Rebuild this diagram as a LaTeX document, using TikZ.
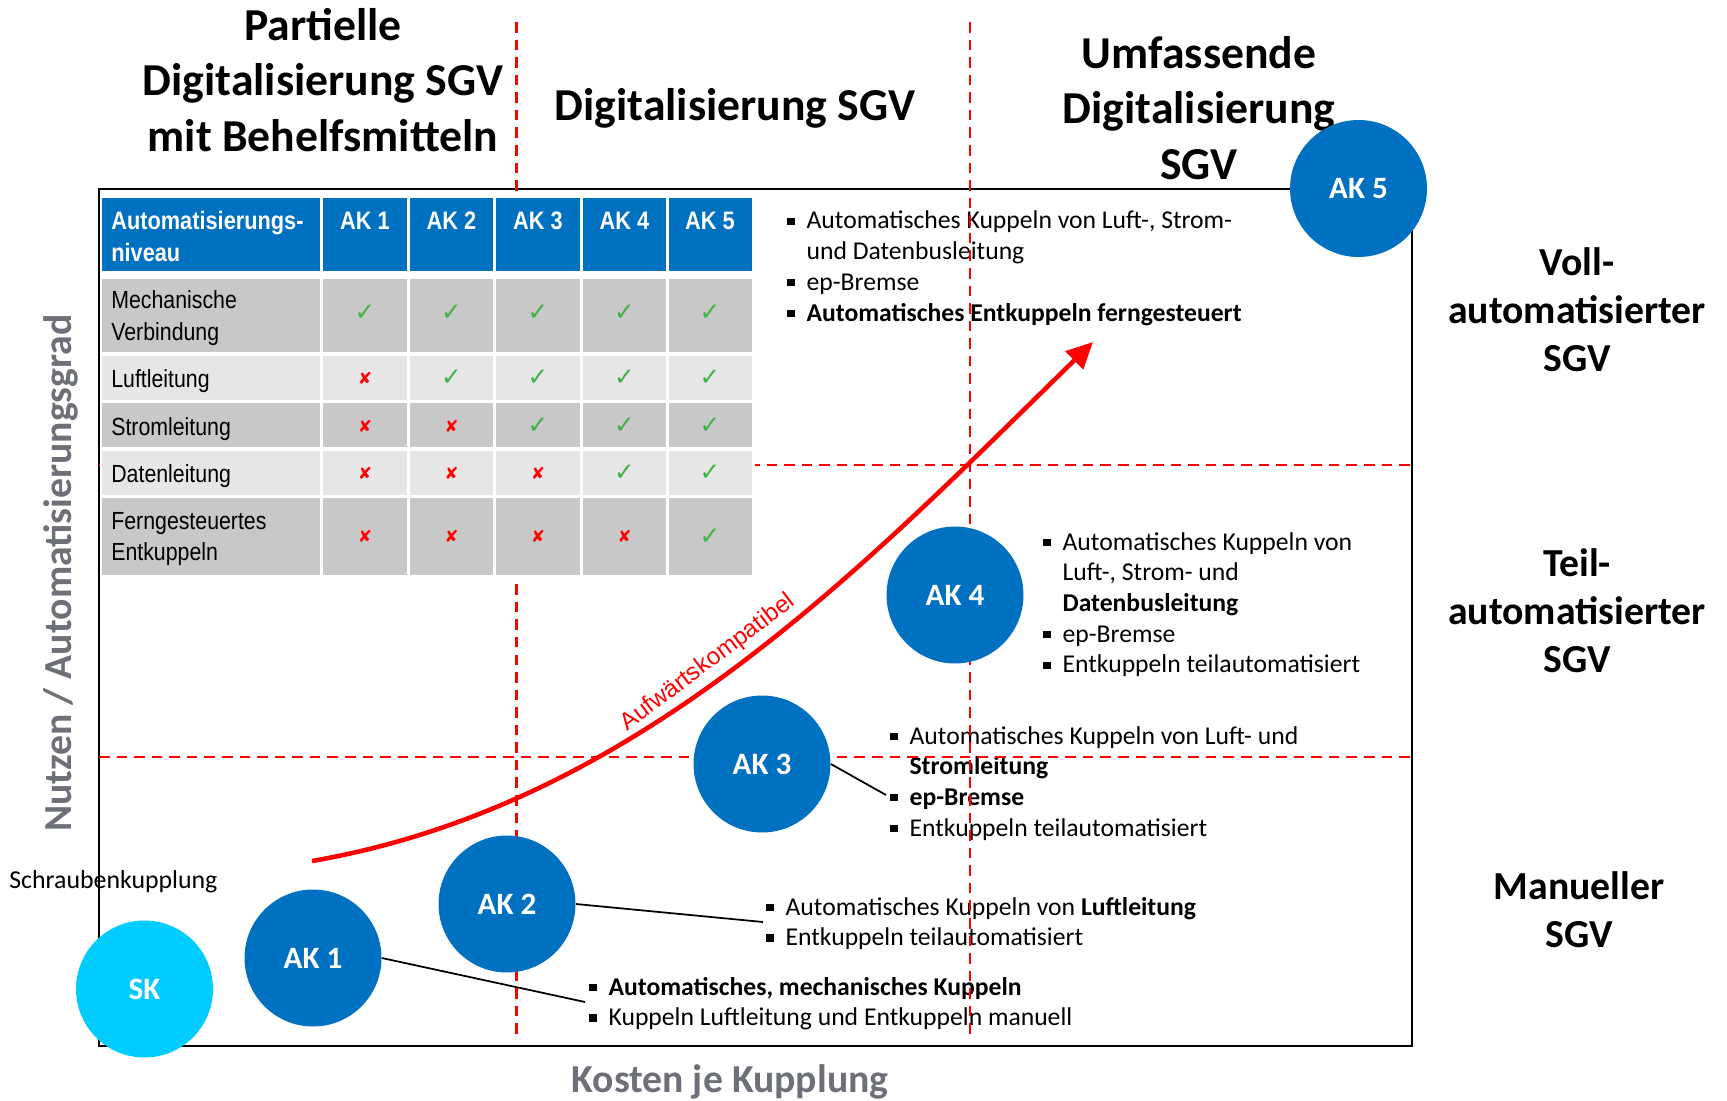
\documentclass[tikz,border=0pt]{standalone}
\usepackage{fontspec}
\setmainfont{Carlito}
\newfontfamily\arialfont{Liberation Sans}
\newfontfamily\narrowfont[FakeStretch=0.86]{Liberation Sans}
\newfontfamily\symbfont{DejaVu Sans}
\usetikzlibrary{arrows.meta}

\definecolor{akblue}{HTML}{0070C0}
\definecolor{skcyan}{HTML}{00CCFF}
\definecolor{celldark}{HTML}{C8C8C8}
\definecolor{celllight}{HTML}{E6E6E6}
\definecolor{okgreen}{HTML}{3DB43D}
\definecolor{axisgrey}{HTML}{6D7078}

\newcommand{\sqbullet}{\rule[0.16em]{0.28em}{0.28em}}
\newcommand{\ckyes}{{\symbfont\fontsize{14}{14}\selectfont\color{okgreen}✓}}
\newcommand{\ckno}{{\symbfont\fontsize{9.5}{9.5}\selectfont\color{red}✘}}

\begin{document}
\begin{tikzpicture}[x=0.02cm, y=-0.02cm, every node/.style={inner sep=0pt},
    akcircle/.style={circle, fill=akblue, minimum size=2.74cm, text=white, font=\bfseries\fontsize{17.7}{20}\selectfont},
    notes/.style={anchor=base west, font=\fontsize{14.6}{17.5}\selectfont},
    heading/.style={align=center, font=\bfseries\fontsize{26}{31.6}\selectfont},
    level/.style={align=center, font=\bfseries\fontsize{22.6}{27.3}\selectfont},
    axislabel/.style={text=axisgrey, font=\bfseries\fontsize{22.6}{27}\selectfont},
    rowlabel/.style={anchor=base west, font=\narrowfont\fontsize{14.1}{18}\selectfont},
    headcell/.style={anchor=base, text=white, font=\narrowfont\bfseries\fontsize{14.4}{18}\selectfont},
    border/.style={red, line width=1.4pt, dash pattern=on 6pt off 4pt},
    link/.style={line width=1pt}]

\useasboundingbox (0,0) rectangle (1727,1101);

% headings above the frame
\node[heading] (hPart) at (323,80) {Partielle\\Digitalisierung SGV\\mit Behelfsmitteln};
\node[heading] (hDig) at (735,108) {Digitalisierung SGV};
\node[heading] (hUmf) at (1199,108) {Umfassende\\Digitalisierung\\SGV};

% levels on the right
\node[level] (lVoll) at (1577,310) {Voll-\\automatisierter\\SGV};
\node[level] (lTeil) at (1577,611) {Teil-\\automatisierter\\SGV};
\node[level] (lMan) at (1579,910) {Manueller\\SGV};

% axes
\node[axislabel, rotate=90] (yAx) at (61,573) {Nutzen / Automatisierungsgrad};
\node[axislabel] (xAx) at (730,1082) {Kosten je Kupplung};
\node[anchor=west, font=\fontsize{14.7}{17}\selectfont] (skLbl) at (9,882) {Schraubenkupplung};

\draw[line width=1.6pt] (99,189) rectangle (1412,1046);

% notes per AK
\node[notes] (n5) at (787,229) {\begin{tabular}[t]{@{}l@{\hspace{0.47em}}l@{}}
  \sqbullet & Automatisches Kuppeln von Luft-, Strom-\\
            & und Datenbusleitung\\
  \sqbullet & ep-Bremse\\
  \sqbullet & \textbf{Automatisches Entkuppeln ferngesteuert}
\end{tabular}};
\node[notes] (n4) at (1043,550) {\begin{tabular}[t]{@{}l@{\hspace{0.47em}}l@{}}
  \sqbullet & Automatisches Kuppeln von\\
            & Luft-, Strom- und\\
            & \textbf{Datenbusleitung}\\
  \sqbullet & ep-Bremse\\
  \sqbullet & Entkuppeln teilautomatisiert
\end{tabular}};
\node[notes] (n3) at (890,744) {\begin{tabular}[t]{@{}l@{\hspace{0.47em}}l@{}}
  \sqbullet & Automatisches Kuppeln von Luft- und\\
            & \textbf{Stromleitung}\\
  \sqbullet & \textbf{ep-Bremse}\\
  \sqbullet & Entkuppeln teilautomatisiert
\end{tabular}};
\node[notes] (n2) at (766,915) {\begin{tabular}[t]{@{}l@{\hspace{0.47em}}l@{}}
  \sqbullet & Automatisches Kuppeln von \textbf{Luftleitung}\\
  \sqbullet & Entkuppeln teilautomatisiert
\end{tabular}};
\node[notes] (n1) at (589,995) {\begin{tabular}[t]{@{}l@{\hspace{0.47em}}l@{}}
  \sqbullet & \textbf{Automatisches, mechanisches Kuppeln}\\
  \sqbullet & Kuppeln Luftleitung und Entkuppeln manuell
\end{tabular}};

% quadrant borders
\draw[border] (516.5,22) -- (516.5,1035);
\draw[border] (970,22) -- (970,1035);
\draw[border] (99,465) -- (1412,465);
\draw[border] (99,757) -- (1412,757);

% table
\fill[white] (100,195) rectangle (755,578);
\foreach \xa/\xb in {102/320,323/407,410/493,496/580,583/666,669/752}{
  \fill[akblue] (\xa,198) rectangle (\xb,271);
  \foreach \ya/\yb/\tone in {279/352/celldark,356/400/celllight,403/447/celldark,451/495/celllight,498/575/celldark}
    \fill[\tone] (\xa,\ya) rectangle (\xb,\yb);
}
\node[headcell, anchor=base west] (hLevel) at (111,230) {\begin{tabular}[t]{@{}l@{}}Automatisierungs-\\niveau\end{tabular}};
\foreach \i/\x in {1/365,2/451.5,3/538,4/624.5,5/710}
  \node[headcell] (hd\i) at (\x,230) {AK \i};

\node[rowlabel] (rMech) at (111,309) {\begin{tabular}[t]{@{}l@{}}Mechanische\\Verbindung\end{tabular}};
\node[rowlabel] (rLuft) at (111,387.5) {Luftleitung};
\node[rowlabel] (rStrom) at (111,435.5) {Stromleitung};
\node[rowlabel] (rDaten) at (111,482) {Datenleitung};
\node[rowlabel] (rFern) at (111,529) {\begin{tabular}[t]{@{}l@{}}Ferngesteuertes\\Entkuppeln\end{tabular}};

\foreach \r/\y/\n in {1/313/0,2/378/1,3/426/2,4/473/3,5/536.5/4}
  \foreach \c/\x in {1/365,2/451.5,3/538,4/624.5,5/710}{
    \ifnum\c>\n \node (m\r\c) at (\x,\y) {\ckyes};
    \else \node (m\r\c) at (\x,\y) {\ckno};
    \fi
  }

% upward compatibility
\coordinate (upS) at (312,861);
\coordinate (upE) at (1093,342);
\draw[red, line width=2.6pt, -{Triangle[length=15pt,width=14pt]}] (upS) .. controls (636,805) and (860,570) .. (upE);
\node[rotate=37, text=red, font=\arialfont\fontsize{13.8}{16}\selectfont] (upLbl) at (708,663) {Aufwärtskompatibel};

% couplings
\node[akcircle, fill=skcyan] (sk) at (144.5,989) {SK};
\node[akcircle] (ak1) at (313,958) {AK 1};
\node[akcircle] (ak2) at (507,904) {AK 2};
\node[akcircle] (ak3) at (762,764) {AK 3};
\node[akcircle] (ak4) at (955,595) {AK 4};
\node[akcircle] (ak5) at (1358.5,188.5) {AK 5};

\coordinate (c1) at (585,1002);
\coordinate (c2) at (763,922);
\coordinate (c3) at (886,795);
\draw[link] (ak1.east) -- (c1);
\draw[link] (ak2.east) -- (c2);
\draw[link] (ak3.east) -- (c3);
\end{tikzpicture}
\end{document}
